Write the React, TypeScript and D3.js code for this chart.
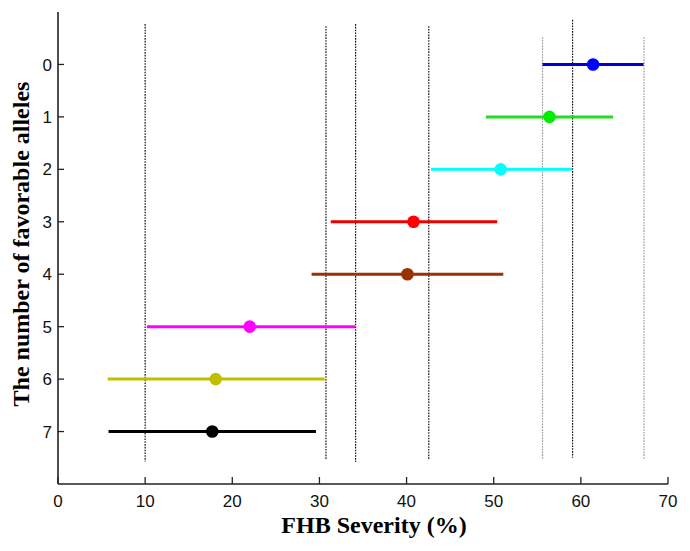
import React from "react";
import * as d3 from "d3";

const groups = [0, 1, 2, 3, 4, 5, 6, 7];
const means = [61.4, 56.4, 50.8, 40.8, 40.1, 22.0, 18.1, 17.7];
const lows = [55.6, 49.1, 42.8, 31.3, 29.1, 10.2, 5.7, 5.8];
const highs = [67.2, 63.7, 59.0, 50.4, 51.1, 34.1, 30.6, 29.6];
const colors = ["#0000ff", "#00ee00", "#00ffff", "#ff0000", "#993300", "#ff00ff", "#bfbf00", "#000000"];
const lineColors = ["#0000cc", "#22dd22", "#00ffff", "#ee0000", "#993300", "#ff00ff", "#bfbf00", "#000000"];
const xTicks = [0, 10, 20, 30, 40, 50, 60, 70];
// reference lines: value, top (y domain), bottom (y domain), colour
const refX = [10, 30.75, 34.15, 42.55, 55.6, 59.05, 67.25];
const refTop = [-0.77, -0.73, -0.77, -0.73, -0.52, -0.85, -0.52];
const refBottom = [7.57, 7.53, 7.58, 7.53, 7.52, 7.5, 7.52];
const refColor = ["#111", "#111", "#111", "#111", "#999", "#111", "#999"];

export default function App() {
  const W = 690, H = 551;
  const x = d3.scaleLinear().domain([0, 70]).range([58, 668]);
  const y = d3.scaleLinear().domain([-1, 8]).range([12, 484]);
  const axisColor = "#222";
  const sans = "'Liberation Sans', Arial, sans-serif";
  const serif = "'Liberation Serif', 'Times New Roman', serif";
  return (
    <svg width={W} height={H} style={{ position: "absolute", left: 0, top: 0, background: "#fff" }}>
      {refX.map((v, i) => (
        <line key={"r" + i} x1={x(v)} x2={x(v)} y1={y(refTop[i])} y2={y(refBottom[i])}
          stroke={refColor[i]} strokeWidth={1.2} strokeDasharray="1.6,1.2" />
      ))}
      {groups.map((g, i) => (
        <g key={"g" + i}>
          <line x1={x(lows[i])} x2={x(highs[i])} y1={y(g)} y2={y(g)} stroke={lineColors[i]} strokeWidth={3} />
          <circle cx={x(means[i])} cy={y(g)} r={6.3} fill={colors[i]} />
        </g>
      ))}
      <line x1={x(0)} x2={x(0)} y1={y(-1)} y2={y(8)} stroke={axisColor} strokeWidth={1.6} />
      <line x1={x(0)} x2={x(70)} y1={y(8)} y2={y(8)} stroke={axisColor} strokeWidth={1.6} />
      {groups.map((g) => (
        <g key={"yt" + g}>
          <line x1={x(0)} x2={x(0) + 6} y1={y(g)} y2={y(g)} stroke={axisColor} strokeWidth={1.3} />
          <text x={52} y={y(g)} dy="0.36em" textAnchor="end" fontFamily={sans} fontSize={17} fill="#111">{g}</text>
        </g>
      ))}
      {xTicks.map((t) => (
        <g key={"xt" + t}>
          <line x1={x(t)} x2={x(t)} y1={y(8)} y2={y(8) - 7} stroke={axisColor} strokeWidth={1.3} />
          <text x={x(t)} y={507} textAnchor="middle" fontFamily={sans} fontSize={17} fill="#111">{t}</text>
        </g>
      ))}
      <text x={374} y={533} textAnchor="middle" fontFamily={serif} fontWeight="bold" fontSize={24} fill="#000">FHB Severity (%)</text>
      <text transform={`translate(29,244) rotate(-90)`} textAnchor="middle" fontFamily={serif} fontWeight="bold" fontSize={24} fill="#000">The number of favorable alleles</text>
    </svg>
  );
}
